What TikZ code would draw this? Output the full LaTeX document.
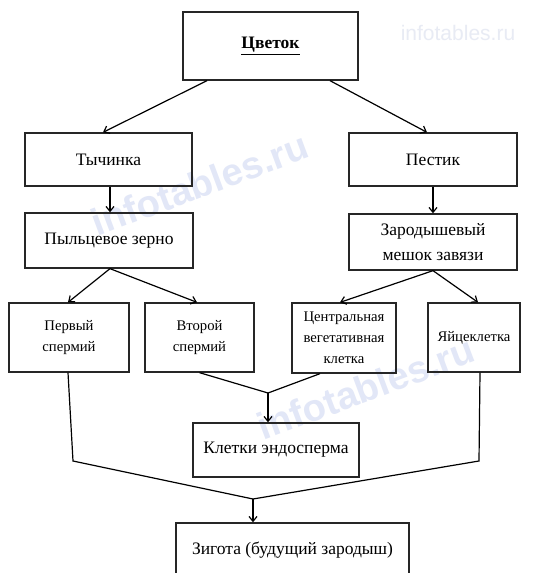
\documentclass[tikz,border=0pt]{standalone}
\usepackage{fontspec}
\setmainfont{Liberation Serif}
\newfontfamily\wmfont{Liberation Sans}
\usetikzlibrary{arrows.meta}
\definecolor{wm}{RGB}{226,231,247}
\definecolor{wmtop}{RGB}{232,235,244}
\begin{document}
\begin{tikzpicture}[x=1pt,y=-1pt,
  box/.style={draw=black!85,line width=1.3pt,fill=none,inner sep=0pt,align=center,font=\fontsize{17.5}{21}\selectfont},
  smallbox/.style={box,font=\fontsize{14.7}{21}\selectfont},
  arr/.style={line width=1.2pt,-{Straight Barb[length=5pt,width=8pt,line width=1.2pt]}},
  ln/.style={line width=1.2pt},
  wmark/.style={text=wm,font=\wmfont\bfseries\fontsize{38}{38}\selectfont,rotate=20.5}]
\useasboundingbox (0,0) rectangle (542,573);
\fill[white] (0,0) rectangle (542,573);
% watermarks
\node[wmark] (wm1) at (200,184) {infotables.ru};
\node[wmark] (wm2) at (366,388) {infotables.ru};
\node[text=wmtop,font=\wmfont\fontsize{21}{21}\selectfont] (wm3) at (458,33) {infotables.ru};
% boxes
\node[box,minimum width=175pt,minimum height=68pt] (cvet) at (270.5,46) {\underline{\textbf{Цветок}}};
\node[box,minimum width=167pt,minimum height=53pt] (tych) at (108.5,159.5) {Тычинка};
\node[box,minimum width=168pt,minimum height=53pt] (pest) at (433,159.5) {Пестик};
\node[box,minimum width=168pt,minimum height=55pt] (pyl) at (109,240.5) {Пыльцевое зерно};
\node[box,minimum width=168pt,minimum height=56pt,font=\fontsize{17.5}{25}\selectfont] (zar) at (433,242) {Зародышевый\\мешок завязи};
\node[smallbox,minimum width=120pt,minimum height=69pt] (perv) at (69,337.5) {Первый\\спермий};
\node[smallbox,minimum width=109pt,minimum height=69pt] (vtor) at (199.5,337.5) {Второй\\спермий};
\node[smallbox,minimum width=104pt,minimum height=70pt] (centr) at (344,338) {Центральная\\вегетативная\\клетка};
\node[smallbox,minimum width=92pt,minimum height=69pt] (yai) at (474,337.5) {Яйцеклетка};
\node[box,minimum width=166pt,minimum height=54pt] (klet) at (276,450) {Клетки эндосперма};
\node[box,minimum width=233pt,minimum height=54pt] (zig) at (292.5,550) {Зигота (будущий зародыш)};
% junctions
\coordinate (j1) at (268,393);
\coordinate (j2) at (253,499);
\coordinate (c1) at (73,461);
\coordinate (c2) at (479,461);
% arrows
\draw[arr] ([xshift=-63.5pt]cvet.south) -- ([xshift=-5.5pt]tych.north);
\draw[arr] ([xshift=59.5pt]cvet.south) -- ([xshift=-6pt]pest.north);
\draw[arr] ([xshift=1.5pt]tych.south) -- ([xshift=1pt]pyl.north);
\draw[arr] (pest.south) -- (zar.north);
\draw[arr] ([xshift=1pt]pyl.south) -- ([xshift=-1pt]perv.north);
\draw[arr] ([xshift=1pt]pyl.south) -- ([xshift=-2.5pt]vtor.north);
\draw[arr] (zar.south) -- ([xshift=-4pt]centr.north);
\draw[arr] (zar.south) -- ([xshift=4pt]yai.north);
\draw[ln] (vtor.south) -- (j1);
\draw[ln] ([xshift=-24pt]centr.south) -- (j1);
\draw[arr] (j1) -- ([xshift=-8pt]klet.north);
\draw[ln] ([xshift=-1pt]perv.south) -- (c1) -- (j2);
\draw[ln] ([xshift=6pt]yai.south) -- (c2) -- (j2);
\draw[arr] (j2) -- ([xshift=-39.5pt]zig.north);
\end{tikzpicture}
\end{document}
